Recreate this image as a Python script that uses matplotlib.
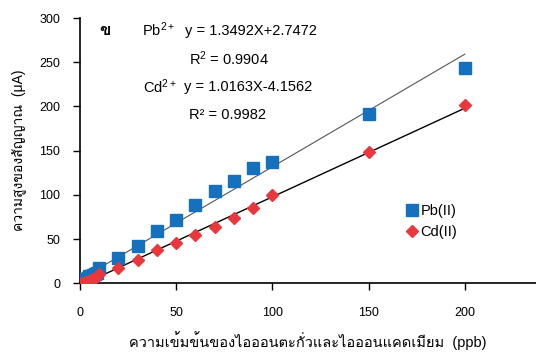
import numpy as np
import matplotlib.pyplot as plt
from matplotlib import font_manager
from matplotlib.ft2font import FT2Font

# calibration data: concentration (ppb) vs peak current (uA)
conc = [1, 2, 3, 4, 5, 6, 7, 8, 9, 10, 20, 30, 40, 50, 60, 70, 80, 90, 100, 150, 200]
pb_current = [3, 4, 5, 6, 8, 8, 9, 10, 11, 17, 28, 42, 59, 72, 89, 104, 116, 130, 137, 191, 244]
cd_current = [0, 0, 1, 2, 3, 4, 5, 6, 8, 10, 17, 26, 37, 45, 55, 64, 74, 85, 100, 148, 202]

pb_eq = 'y = 1.3492X+2.7472'
pb_r2 = 'R$^2$ = 0.9904'
cd_eq = 'y = 1.0163X-4.1562'
cd_r2 = 'R² = 0.9982'

xlabel = 'ความเข้มข้นของไอออนตะกั่วและไอออนแคดเมียม  (ppb)'
ylabel = 'ความสูงของสัญญาณ  (μA)'


def thai_font():
    # first installed font that has Thai glyphs
    for f in font_manager.fontManager.ttflist:
        try:
            if 0x0E04 in FT2Font(f.fname).get_charmap():
                return f.name
        except Exception:
            pass
    return 'DejaVu Sans'


thai = thai_font()
plt.rcParams['font.family'] = ['Liberation Sans', thai, 'DejaVu Sans']
plt.rcParams['mathtext.fontset'] = 'custom'
plt.rcParams['mathtext.rm'] = 'Liberation Sans'
plt.rcParams['mathtext.it'] = 'Liberation Sans'

fig = plt.figure(figsize=(5.36, 3.54), dpi=100)
ax = fig.add_axes([0.149, 0.200, 0.851, 0.749])

ax.plot(conc, pb_current, 's', color='#1570bd', markersize=8, label='Pb(II)', zorder=3)
ax.plot(conc, cd_current, 'D', color='#e8383d', markersize=6.5, label='Cd(II)', zorder=3)

# linear trendlines
xs = np.array([5, 200])
p = np.polyfit(conc, pb_current, 1)
ax.plot(xs, np.polyval(p, xs), color='#555555', lw=0.8, zorder=2)
c = np.polyfit(conc, cd_current, 1)
ax.plot(xs, np.polyval(c, xs), color='black', lw=1.0, zorder=2)

ax.set_xlim(0, 237)
ax.set_ylim(0, 300)
ax.set_xticks([0, 50, 100, 150, 200])
ax.set_yticks([0, 50, 100, 150, 200, 250, 300])
for s in ['top', 'right']:
    ax.spines[s].set_visible(False)
for s in ['left', 'bottom']:
    ax.spines[s].set_linewidth(1.2)
ax.tick_params(labelsize=9, direction='out', length=5, width=1.0, pad=9)
ax.tick_params(axis='x', pad=12)

ax.set_xlabel(xlabel, fontsize=10.5, labelpad=9)
ax.set_ylabel(ylabel, fontsize=10, labelpad=10)

tk = dict(transform=fig.transFigure, fontsize=10.5, va='center')
fig.text(0.185, 0.913, 'ข', fontweight='bold', fontsize=12, transform=fig.transFigure, va='center')
fig.text(0.264, 0.915, 'Pb$^{2+}$', **tk)
fig.text(0.345, 0.913, pb_eq, **tk)
fig.text(0.352, 0.833, pb_r2, **tk)
fig.text(0.266, 0.754, 'Cd$^{2+}$', **tk)
fig.text(0.343, 0.754, cd_eq, **tk)
fig.text(0.352, 0.675, cd_r2, **tk)

ax.legend(loc='upper left', bbox_to_anchor=(0.745, 0.44), bbox_transform=fig.transFigure,
          frameon=False, fontsize=10.5, handletextpad=0.05, handlelength=1.0,
          labelspacing=0.45, borderaxespad=0)

fig.savefig('out.png', dpi=100)
